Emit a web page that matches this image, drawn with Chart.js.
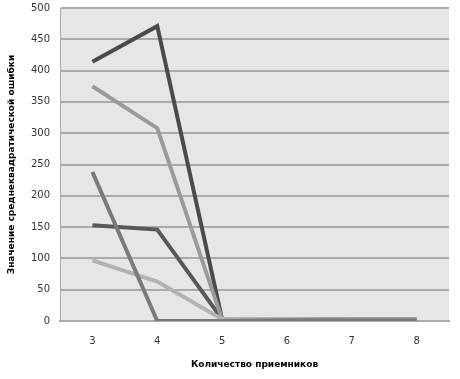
<!doctype html>
<html>
<head>
    <title>Ошибка</title>
    <script src="https://cdn.jsdelivr.net/npm/chart.js"></script>
</head>
<body style="margin:0; background:#fff">
    <div style="width:460px; height:379px">
        <canvas id="grafik"></canvas>
    </div>
    <script>
        var kategorii = ['3', '4', '5', '6', '7', '8'];
        var ryad1 = [414, 471, 3, 3, 2, 2];
        var ryad2 = [375, 308, 3, 3, 2, 2];
        var ryad3 = [238, 0, 0, 1, 1, 1];
        var ryad4 = [153, 146, 3, 3, 2, 2];
        var ryad5 = [97, 63, 3, 3, 2, 2];
        var yTiki = [0, 50, 100, 150, 200, 250, 300, 350, 400, 450, 500];

        var fon = {
            id: 'fon',
            beforeDraw: function (chart) {
                var a = chart.chartArea, ctx = chart.ctx;
                ctx.save();
                ctx.fillStyle = '#e6e6e6';
                ctx.fillRect(a.left, a.top, a.right - a.left, a.bottom - a.top);
                ctx.restore();
            }
        };

        function linia(data, cvet) {
            return {
                data: data,
                borderColor: cvet,
                borderWidth: 4,
                pointRadius: 0,
                fill: false,
                tension: 0
            };
        }

        new Chart(document.getElementById('grafik'), {
            type: 'line',
            data: {
                labels: kategorii,
                datasets: [
                    linia(ryad3, '#7a7a7a'),
                    linia(ryad5, '#b2b2b2'),
                    linia(ryad2, '#9a9a9a'),
                    linia(ryad4, '#585858'),
                    linia(ryad1, '#4a4a4a')
                ]
            },
            options: {
                responsive: true,
                maintainAspectRatio: false,
                animation: false,
                layout: { padding: { top: 8, right: 11, left: 0, bottom: 0 } },
                plugins: { legend: { display: false }, tooltip: { enabled: false } },
                scales: {
                    x: {
                        offset: true,
                        grid: { display: false, drawTicks: false },
                        border: { color: '#aaa', width: 2 },
                        ticks: { color: '#333', padding: 14, font: { family: 'DejaVu Sans', size: 10 } },
                        title: {
                            display: true,
                            text: 'Количество приемников',
                            color: '#000',
                            padding: { top: 4, bottom: 9 },
                            font: { family: 'DejaVu Sans', size: 9, weight: 'bold' }
                        },
                        afterFit: function (s) { s.height = 58; }
                    },
                    y: {
                        min: 0,
                        max: 500,
                        afterBuildTicks: function (s) { s.ticks = yTiki.map(function (v) { return { value: v }; }); },
                        grid: { color: '#aaa', lineWidth: 2, drawTicks: false },
                        border: { color: '#aaa', width: 1 },
                        ticks: { color: '#333', padding: 10, font: { family: 'DejaVu Sans', size: 10 } },
                        title: {
                            display: true,
                            text: 'Значение среднеквадратической ошибки',
                            color: '#000',
                            padding: { top: 6, bottom: 2 },
                            font: { family: 'DejaVu Sans', size: 9, weight: 'bold' }
                        },
                        afterFit: function (s) { s.width = 60; s.paddingTop = 0; s.paddingBottom = 0; }
                    }
                }
            },
            plugins: [fon]
        });
    </script>
</body>
</html>
